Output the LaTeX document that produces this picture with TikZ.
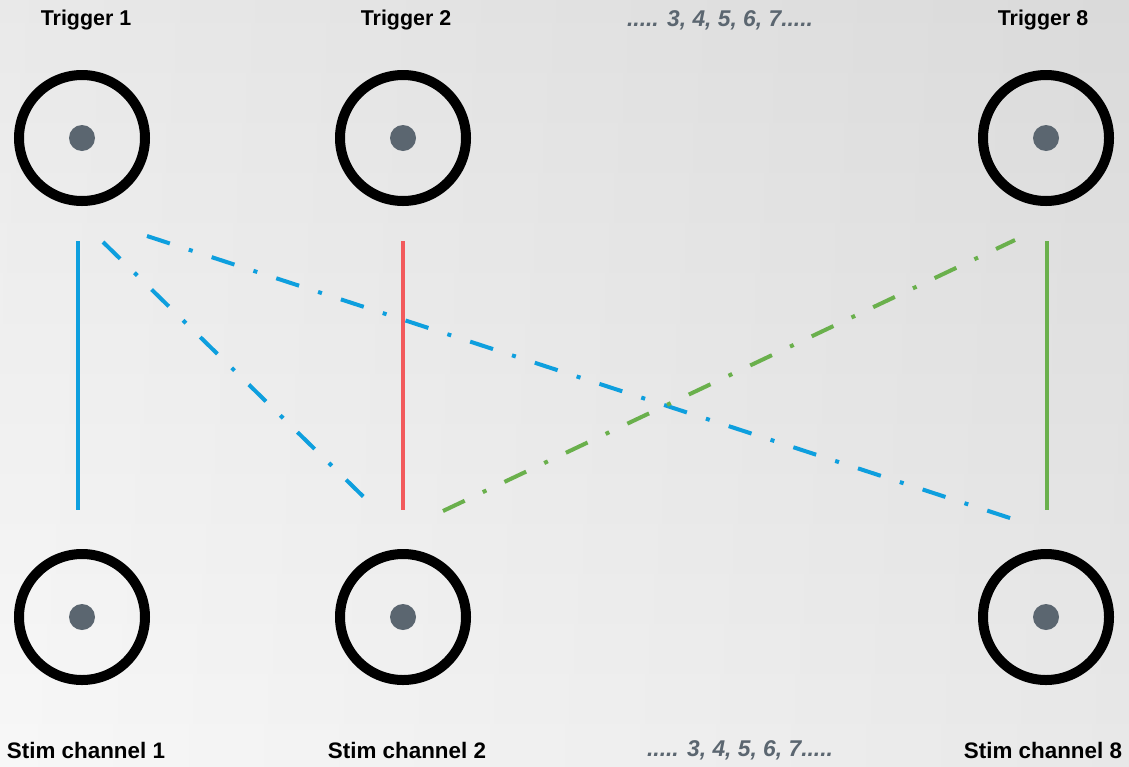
\documentclass[tikz,border=0pt]{standalone}
\usepackage{fontspec}
\setmainfont{Liberation Sans}
\definecolor{dotgrey}{HTML}{5B6670}
\definecolor{lblue}{HTML}{0E9FDE}
\definecolor{lred}{HTML}{F25A5C}
\definecolor{lgreen}{HTML}{6AB04C}
\tikzset{
  ring/.style={circle, draw=black, line width=10pt, minimum size=126pt, inner sep=0pt},
  hub/.style={circle, fill=dotgrey, minimum size=26pt, inner sep=0pt},
  lbl/.style={font=\bfseries\fontsize{21.4}{25}\selectfont, text=black, inner sep=0pt},
  lblb/.style={font=\bfseries\fontsize{22.4}{26}\selectfont, text=black, inner sep=0pt},
  etc/.style={font=\bfseries\itshape\fontsize{22.8}{26}\selectfont, text=dotgrey, inner sep=0pt},
  solidlink/.style={line width=4pt},
  dashlink/.style={line width=4pt, dash pattern=on 24pt off 20pt on 4pt off 20pt}
}
\begin{document}
\begin{tikzpicture}[x=1pt,y=-1pt]
\useasboundingbox (0,0) rectangle (1129,766);
% background
\shade[top color=black!9, middle color=black!12, bottom color=black!3] (0,0) rectangle (1129,766);
\shade[left color=white, right color=black, opacity=0.06] (0,0) rectangle (1129,766);

% labels
\node[lbl] (t1) at (86,20) {Trigger 1};
\node[lbl] (t2) at (406,20) {Trigger 2};
\node[etc] (tdots) at (720,20) {..... 3, 4, 5, 6, 7.....};
\node[lbl] (t8) at (1043,20) {Trigger 8};
\node[lblb] (s1) at (86,750) {Stim channel 1};
\node[lblb] (s2) at (407,750) {Stim channel 2};
\node[etc] (sdots) at (740,750) {..... 3, 4, 5, 6, 7.....};
\node[lblb] (s8) at (1043,750) {Stim channel 8};

% connectors
\node[ring] (r1) at (82,138) {};
\node[ring] (r2) at (403,138) {};
\node[ring] (r8) at (1046,138) {};
\node[ring] (c1) at (82,617) {};
\node[ring] (c2) at (403,617) {};
\node[ring] (c8) at (1046,617) {};
\foreach \n in {r1,r2,r8,c1,c2,c8} \node[hub] (\n h) at (\n) {};

% link end points
\coordinate (a1) at (78,241);
\coordinate (b1) at (78,510);
\coordinate (a2) at (403,241);
\coordinate (b2) at (403,510);
\coordinate (a8) at (1047,241);
\coordinate (b8) at (1047,510);
\coordinate (d1s) at (103,242);
\coordinate (d1e) at (375,508);
\coordinate (d2s) at (147,236);
\coordinate (d2e) at (1016,520);
\coordinate (d3s) at (443,511);
\coordinate (d3e) at (1015,240);

\draw[solidlink, lblue] (a1) -- (b1);
\draw[solidlink, lred] (a2) -- (b2);
\draw[solidlink, lgreen] (a8) -- (b8);
\draw[dashlink, lblue] (d1s) -- (d1e);
\draw[dashlink, lblue] (d2s) -- (d2e);
\draw[dashlink, lgreen] (d3s) -- (d3e);
\end{tikzpicture}
\end{document}
